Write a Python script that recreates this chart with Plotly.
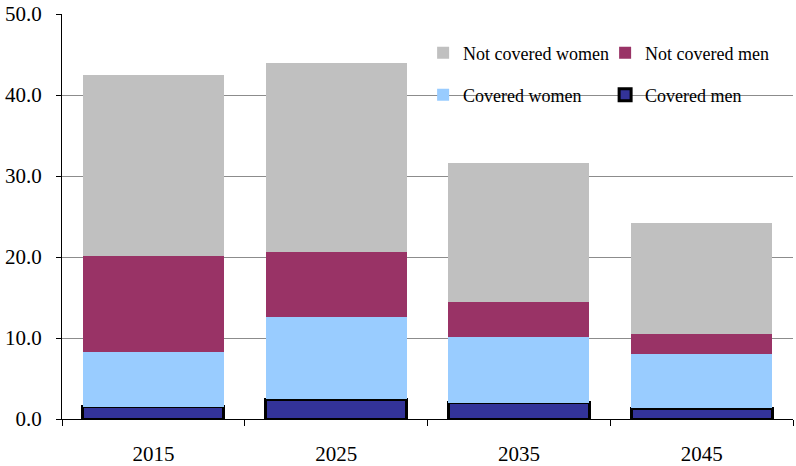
import plotly.graph_objects as go

years = ["2015", "2025", "2035", "2045"]
covered_men = [1.5, 2.45, 2.0, 1.3]
covered_women = [6.73, 10.15, 8.17, 6.72]
not_covered_men = [11.85, 8.0, 4.33, 2.48]
not_covered_women = [22.39, 23.3, 17.06, 13.66]
y_ticks = [0, 10, 20, 30, 40, 50]
y_tick_labels = ["0.0", "10.0", "20.0", "30.0", "40.0", "50.0"]

FONT = "Liberation Serif"

fig = go.Figure()
fig.add_trace(go.Bar(x=years, y=covered_men, name="Covered men",
                     marker=dict(color="#333399", line=dict(color="#000000", width=3)),
                     legend="legend2"))
fig.add_trace(go.Bar(x=years, y=covered_women, name="Covered women",
                     marker=dict(color="#99CCFF", line=dict(width=0)),
                     legend="legend2"))
fig.add_trace(go.Bar(x=years, y=not_covered_men, name="Not covered men",
                     marker=dict(color="#993366", line=dict(width=0)),
                     legend="legend"))
fig.add_trace(go.Bar(x=years, y=not_covered_women, name="Not covered women",
                     marker=dict(color="#C0C0C0", line=dict(width=0)),
                     legend="legend"))

leg_common = dict(orientation="h", xanchor="left", yanchor="middle",
                  traceorder="reversed", entrywidth=137,
                  font=dict(family=FONT, size=18, color="#000000"),
                  bgcolor="rgba(0,0,0,0)", borderwidth=0)

fig.update_layout(
    width=796, height=466,
    margin=dict(l=62, r=3, t=14, b=47, autoexpand=False),
    paper_bgcolor="#ffffff", plot_bgcolor="#ffffff",
    barmode="stack", bargap=0.228,
    font=dict(family=FONT, size=21, color="#000000"),
    legend=dict(x=0.494, y=0.9037, **leg_common),
    legend2=dict(x=0.494, y=0.80, **leg_common),
    xaxis=dict(type="category", showline=True, linecolor="#000000", linewidth=1,
               ticks="outside", ticklen=6, tickcolor="#000000", tickson="boundaries",
               showgrid=False, tickfont=dict(family=FONT, size=21),
               ticklabelstandoff=16, automargin=False),
    yaxis=dict(range=[0, 50], tickvals=y_ticks, ticktext=y_tick_labels,
               showline=True, linecolor="#000000", linewidth=1,
               ticks="outside", ticklen=5, tickcolor="#000000",
               showgrid=True, gridcolor="#8c8c8c", gridwidth=1,
               zeroline=False, tickfont=dict(family=FONT, size=21),
               ticklabelstandoff=10, automargin=False),
)

fig.write_html("out.html", config={"displayModeBar": False},
               post_script="document.body.style.margin='0px';")
